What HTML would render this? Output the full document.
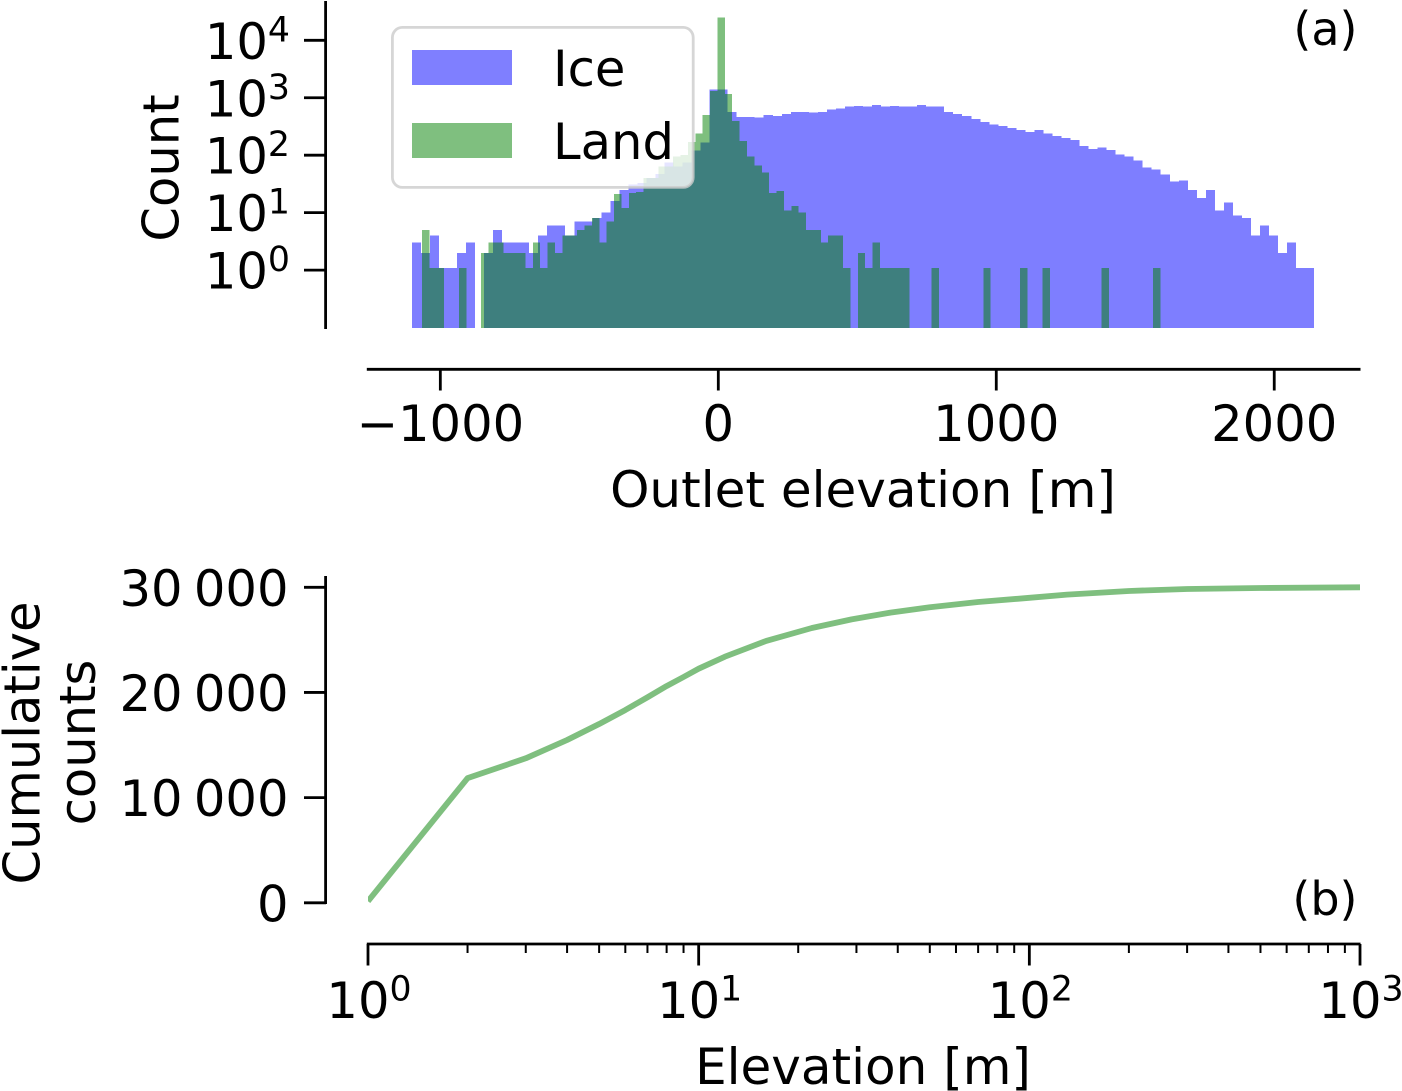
<!DOCTYPE html>
<html lang="en">
<head>
<meta charset="utf-8">
<title>Outlet elevation histogram and cumulative counts</title>
<style>
html,body{margin:0;padding:0;background:#fff;width:1402px;height:1091px;overflow:hidden}
svg{display:block}
text{font-family:"DejaVu Sans","Liberation Sans",sans-serif;font-size:49.6px;fill:#000}
</style>
</head>
<body>
<svg id="chart" xmlns="http://www.w3.org/2000/svg" width="1402" height="1091" viewBox="0 0 1402 1091">
  <defs>
    <clipPath id="line-clip"><rect x="368" y="560" width="992" height="345"/></clipPath>
  </defs>
  <g id="panel-a">
    <g id="ice-bars" opacity="0.5" fill="#0000ff" shape-rendering="crispEdges"></g>
    <g id="land-bars" opacity="0.5" fill="#008000" shape-rendering="crispEdges"></g>
    <g id="a-axes"></g>
    <g>
      <rect x="392.4" y="27.4" width="300.8" height="160" rx="10" ry="10" fill="#fff" fill-opacity="0.8" stroke="#cccccc" stroke-opacity="0.8" stroke-width="2.8"/>
      <rect x="412" y="50" width="100" height="35" fill="#0000ff" fill-opacity="0.5"/>
      <text x="553" y="86">Ice</text>
      <rect x="412" y="123" width="100" height="35" fill="#008000" fill-opacity="0.5"/>
      <text x="553" y="159">Land</text>
    </g>
    <text x="863" y="507" text-anchor="middle" style="font-size:50px">Outlet elevation [m]</text>
    <text transform="translate(178.5,168) rotate(-90)" text-anchor="middle">Count</text>
    <text x="1357.5" y="45" text-anchor="end" style="font-size:46px">(a)</text>
  </g>
  <g id="panel-b">
    <path id="cum-line" fill="none" stroke="#008000" stroke-opacity="0.5" stroke-width="5.8" stroke-linejoin="round" clip-path="url(#line-clip)"/>
    <g id="b-axes"></g>
    <text x="863" y="1084" text-anchor="middle" style="font-size:50px">Elevation [m]</text>
    <text transform="translate(39.5,743) rotate(-90)" text-anchor="middle">Cumulative</text>
    <text transform="translate(95,742.5) rotate(-90)" text-anchor="middle">counts</text>
    <text x="1357.5" y="915" text-anchor="end" style="font-size:46px">(b)</text>
  </g>
</svg>
<script>
const iceCounts = [3,2,4,1.08,1.08,2,3,0,2,5,3,3,3,2,4,6,6,4,7,7,8,10,16,25,31,33,40,47,74,63,74,120,165,1380,1380,570,465,465,450,505,485,525,570,570,550,570,620,645,700,725,700,755,700,725,700,700,755,700,700,570,525,485,430,380,340,325,300,277,255,277,240,218,200,185,146,129,135,124,102,94,81,61,56,46,35,36,25,18,25,11,15,9,8,4,6,4,2,3,1.08,1.08];
const landCounts = [5,1.08,1.08,0,0,1.08,0,0,2,3,3,2,2,2,1.08,3,1.08,3,2,4,4,5,6,8,3,7,21,12,22,23,40,40,63,63,94,100,170,240,505,1320,25000,1170,390,176,94,66,50,22,24,11,13,10,5,5,3,4,4,1.08,0,2,1.08,3,1.08,1.08,1.08,1.08,0,0,0,1.08,0,0,0,0,0,0,1.08,0,0,0,0,1.08,0,0,1.08,0,0,0,0,0,0,0,1.08,0,0,0,0,0,0,1.08];
const iceRange = [-1102.5, 2143.5];
const landRange = [-1065.6, 1591];
const histBottom = 0.098;
const elevationTicks = [-1000, 0, 1000, 2000];
const elevationTickLabels = ["\u22121000", "0", "1000", "2000"];
const countTickExponents = [0, 1, 2, 3, 4];
const cumElevation = [1,2,3,4,5,6,7,8,9,10,12,16,22,29,38,50,70,100,130,200,300,500,1000];
const cumCounts = [150,11850,13740,15480,17000,18330,19540,20610,21470,22260,23400,24900,26130,26950,27590,28100,28600,29000,29300,29650,29840,29930,30000];
const cumTicks = [0, 10000, 20000, 30000];
const cumTickLabels = ["0", "10 000", "20 000", "30 000"];
const logTickExponents = [0, 1, 2, 3];

const NS = 'http://www.w3.org/2000/svg';
const xHist = m => 718.3 + 0.27797 * m;
const yHist = v => 270.1 - 57.45 * Math.log10(v);
const xLog = v => 368 + 330.67 * Math.log10(v);
const yCum = v => 902.8 - 0.010517 * v;

function make(tag, attrs, parent) {
  const el = document.createElementNS(NS, tag);
  for (const k in attrs) el.setAttribute(k, attrs[k]);
  parent.appendChild(el);
  return el;
}
function drawBars(counts, range, parentId, barName) {
  const parent = document.getElementById(parentId);
  const binWidth = (range[1] - range[0]) / counts.length;
  counts.forEach((c, i) => {
    if (c <= 0) return;
    const x0 = xHist(range[0] + i * binWidth);
    const x1 = xHist(range[0] + (i + 1) * binWidth);
    const top = yHist(c);
    const bar = make('rect', {x: x0, y: top, width: x1 - x0, height: yHist(histBottom) - top}, parent);
    
    
  });
}
drawBars(iceCounts, iceRange, 'ice-bars', 'ice-bar');
drawBars(landCounts, landRange, 'land-bars', 'land-bar');

function tickLine(parent, x1, y1, x2, y2, w, name) {
  const l = make('line', {x1, y1, x2, y2, stroke: '#000', 'stroke-width': w}, parent);
  
  
  return l;
}
function label(parent, x, y, anchor, str, name) {
  const t = make('text', {x, y, 'text-anchor': anchor}, parent);
  t.textContent = str;
  
  
  return t;
}
function powerLabel(parent, x, y, anchor, exp, name) {
  const t = label(parent, x, y, anchor, '10', name);
  const s = make('tspan', {dy: -17.5, style: 'font-size:34.7px'}, t);
  s.textContent = String(exp);
  return t;
}

const axA = document.getElementById('a-axes');
tickLine(axA, 325.6, 1, 325.6, 329, 2.8, 'y-axis-spine');
tickLine(axA, 366.8, 369.3, 1360.5, 369.3, 2.8, 'x-axis-spine');
countTickExponents.forEach(e => {
  const y = yHist(Math.pow(10, e));
  tickLine(axA, 304, y, 326, y, 2.8, 'y-tick');
  powerLabel(axA, 290, y + 18.5, 'end', e, 'y-tick-label');
});
elevationTicks.forEach((m, i) => {
  const x = xHist(m);
  tickLine(axA, x, 369, x, 390.5, 2.8, 'x-tick');
  label(axA, x, 441, 'middle', elevationTickLabels[i], 'x-tick-label');
});

document.getElementById('cum-line').setAttribute('d',
  cumElevation.map((e, i) => (i ? 'L' : 'M') + xLog(e).toFixed(2) + ' ' + yCum(cumCounts[i]).toFixed(2)).join(' '));

const axB = document.getElementById('b-axes');
tickLine(axB, 325.6, 576, 325.6, 904, 2.8, 'y-axis-spine');
tickLine(axB, 366.8, 944, 1360.5, 944, 2.8, 'x-axis-spine');
cumTicks.forEach((v, i) => {
  const y = yCum(v);
  tickLine(axB, 304, y, 326, y, 2.8, 'y-tick');
  const t = label(axB, 288.5, y + 18.5, 'end', cumTickLabels[i], 'y-tick-label');
  t.style.wordSpacing = '-4.5px';
});
logTickExponents.forEach(e => {
  const x = xLog(Math.pow(10, e));
  tickLine(axB, x, 944, x, 965.5, 2.8, 'x-tick');
  powerLabel(axB, x + 1, 1018, 'middle', e, 'x-tick-label');
  if (e < 3) {
    for (let m = 2; m < 10; m++) {
      const xm = xLog(m * Math.pow(10, e));
      tickLine(axB, xm, 944, xm, 953, 2, 'x-minor-tick');
    }
  }
});
</script>
</body>
</html>
